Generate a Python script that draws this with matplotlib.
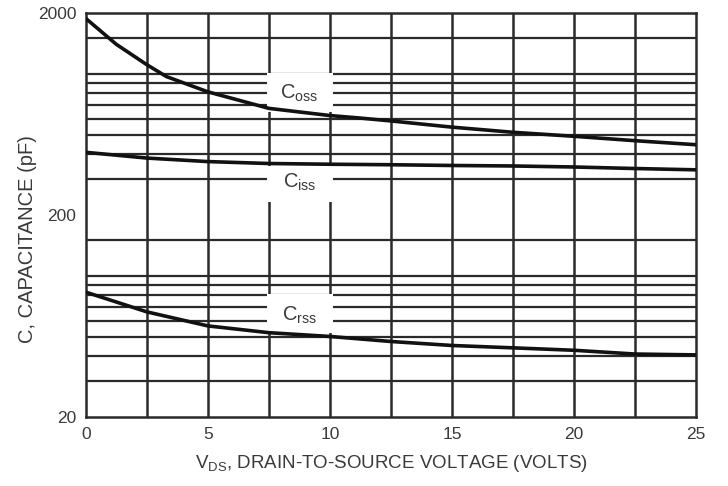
import matplotlib
matplotlib.use("Agg")
from matplotlib import pyplot as plt
from matplotlib.patches import Rectangle

plt.rcParams['font.family'] = ['Liberation Sans', 'DejaVu Sans']
plt.rcParams['mathtext.fontset'] = 'custom'
plt.rcParams['mathtext.rm'] = 'Liberation Sans'
plt.rcParams['mathtext.it'] = 'Liberation Sans'

# tensions (V)
vds = [0, 1.25, 2.5, 3.3, 5, 7.5, 10, 11.2, 12.5, 15, 17.5, 20, 22.5, 25]
coss = [1880, 1400, 1110, 970, 815, 675, 622, 605, 585, 545, 514, 491, 467, 446]

vds_iss = [0, 2.5, 5, 7.5, 10, 12.5, 15, 17.5, 20, 22.5, 25]
ciss = [409, 383, 368, 360, 357, 355, 352, 350, 346, 340, 335]

vds_rss = [0, 2.5, 5, 7.5, 10, 12.5, 15, 17.5, 20, 22.5, 25]
crss = [83, 66.3, 56.5, 52.3, 50.1, 47.3, 45.2, 44.0, 42.8, 41.0, 40.6]

grille_y = [30, 40, 50, 60, 70, 80, 90, 100, 150,
            300, 400, 500, 600, 700, 800, 900, 1000, 1500]
grille_x = [2.5, 5, 7.5, 10, 12.5, 15, 17.5, 20, 22.5]

# étiquettes : (texte, position du centre, bas et haut de la boite blanche)
etiquettes = [
    (r'C$_{\mathrm{oss}}$', 8.75, 800, 650, 1010),
    (r'C$_{\mathrm{iss}}$', 8.75, 290, 232, 350),
    (r'C$_{\mathrm{rss}}$', 8.75, 64, 52, 81),
]

gris = '#2a2a2a'
texte = '#3a3a3a'

fig = plt.figure(figsize=(7.28, 4.86), dpi=100)
ax = fig.add_axes([0.118, 0.142, 0.838, 0.831])
ax.set_yscale('log')
ax.set_xlim(0, 25)
ax.set_ylim(20, 2000)

for y in grille_y:
    ax.axhline(y, color=gris, lw=1.6, zorder=1)
for x in grille_x:
    ax.axvline(x, color=gris, lw=1.8, zorder=1)

for lab, xc, yc, y0, y1 in etiquettes:
    ax.add_patch(Rectangle((7.42, y0), 2.7, y1 - y0, facecolor='white',
                           edgecolor='none', zorder=2))
    ax.text(xc, yc, lab, fontsize=14.5, color=texte, ha='center', va='center', zorder=3)

ax.plot(vds, coss, color='#111111', lw=2.6, zorder=4)
ax.plot(vds_iss, ciss, color='#111111', lw=2.6, zorder=4)
ax.plot(vds_rss, crss, color='#111111', lw=2.6, zorder=4)

for s in ax.spines.values():
    s.set_color(gris)
    s.set_linewidth(1.8)

ax.set_yticks([20, 200, 2000])
ax.set_yticklabels(['20', '200', '2000'])
ax.yaxis.set_minor_locator(matplotlib.ticker.NullLocator())
ax.set_xticks([0, 5, 10, 15, 20, 25])
ax.tick_params(length=0, labelsize=12.5, colors=texte, pad=7)

ax.set_xlabel(r'V$_{\mathrm{DS}}$, DRAIN-TO-SOURCE VOLTAGE (VOLTS)', fontsize=13.5,
              color=texte, labelpad=8)
ax.set_ylabel('C, CAPACITANCE (pF)', fontsize=14.5, color=texte)
ax.yaxis.set_label_coords(-0.08, 0.44)

fig.savefig('out.png', dpi=100)
